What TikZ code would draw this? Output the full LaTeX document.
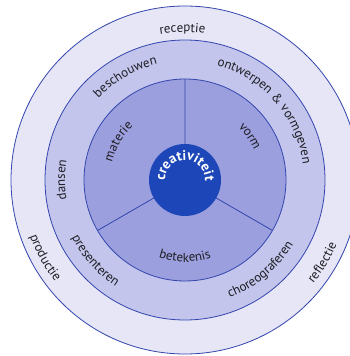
\documentclass[tikz,border=0pt]{standalone}
\usepackage{fontspec}
\setmainfont{PT Sans}
\usetikzlibrary{decorations.text,calc}
\definecolor{ringA}{HTML}{E6E6F6}
\definecolor{ringB}{HTML}{C3C5EC}
\definecolor{ringC}{HTML}{9C9FDE}
\definecolor{core}{HTML}{1D47B8}
\definecolor{edge}{HTML}{3446AE}
\definecolor{ink}{HTML}{1E1E24}
\newcommand\lblfont{\fontsize{13}{15}\selectfont\color{ink}}
\newcommand\corefont{\fontsize{14}{16}\selectfont\bfseries\color{white}}
\begin{document}
\begin{tikzpicture}[x=1pt,y=1pt,
  ring/.style={draw=edge,line width=0.8pt},
  spoke/.style={draw=edge,line width=0.8pt},
  arclbl/.style={decorate,decoration={text along path,text align=center,text={#1}}}]
\useasboundingbox (0,0) rectangle (350,356);
\fill[white] (0,0) rectangle (350,356);
\coordinate (c) at (185,176);
\begin{scope}
\clip (0,0) rectangle (350,356);
\draw[ring,fill=ringA] (c) circle[radius=174pt];
\end{scope}
\draw[ring,fill=ringB] (c) circle[radius=140pt];
\draw[ring,fill=ringC] (c) circle[radius=101pt];
\coordinate (s1) at ($(c)+(90:101pt)$);
\coordinate (s2) at ($(c)+(210:101pt)$);
\coordinate (s3) at ($(c)+(330:101pt)$);
\draw[spoke] (c) -- (s1) (c) -- (s2) (c) -- (s3);
\fill[core] (c) circle[radius=36pt];
% top (clockwise) labels
\path[arclbl={|\lblfont|receptie}] ($(c)+(151:148pt)$) arc[start angle=151,end angle=31,radius=148pt];
\path[arclbl={|\lblfont|beschouwen}] ($(c)+(180:119pt)$) arc[start angle=180,end angle=60,radius=119pt];
\path[arclbl={|\lblfont|ontwerpen {\&} vormgeven}] ($(c)+(111:119pt)$) arc[start angle=111,end angle=-29,radius=119pt];
\path[arclbl={|\lblfont|dansen}] ($(c)+(240:120pt)$) arc[start angle=240,end angle=120,radius=120pt];
\path[arclbl={|\lblfont|materie}] ($(c)+(210:75pt)$) arc[start angle=210,end angle=90,radius=75pt];
\path[arclbl={|\lblfont|vorm}] ($(c)+(94:75pt)$) arc[start angle=94,end angle=-26,radius=75pt];
\path[arclbl={|\corefont|creativiteit}] ($(c)+(200:20pt)$) arc[start angle=200,end angle=-20,radius=20pt];
% bottom (counterclockwise) labels
\path[arclbl={|\lblfont|betekenis}] ($(c)+(210:82pt)$) arc[start angle=210,end angle=330,radius=82pt];
\path[arclbl={|\lblfont|presenteren}] ($(c)+(162:127pt)$) arc[start angle=162,end angle=282,radius=127pt];
\path[arclbl={|\lblfont|choreograferen}] ($(c)+(250:126pt)$) arc[start angle=250,end angle=370,radius=126pt];
\path[arclbl={|\lblfont|productie}] ($(c)+(150:165pt)$) arc[start angle=150,end angle=268,radius=165pt];
\path[arclbl={|\lblfont|reflectie}] ($(c)+(270:165pt)$) arc[start angle=270,end angle=388,radius=165pt];
\end{tikzpicture}
\end{document}
